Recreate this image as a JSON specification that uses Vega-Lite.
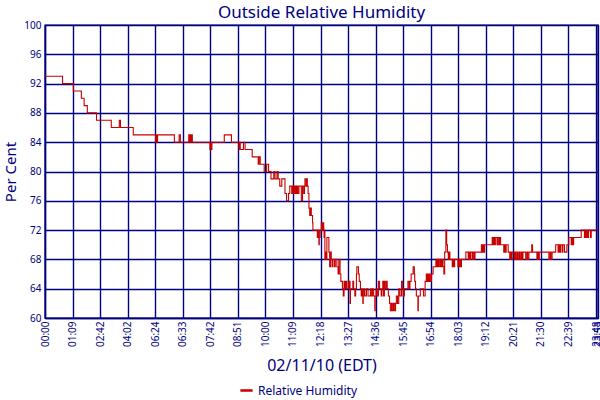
{
  "$schema": "https://vega.github.io/schema/vega-lite/v6.json",
  "width": 553,
  "height": 293,
  "autosize": {"type": "none"},
  "padding": {"left": 45, "top": 25, "right": 2, "bottom": 82},
  "background": "white",
  "config": {
    "font": "Noto Sans",
    "view": {"stroke": "#000080", "strokeWidth": 1.4},
    "axis": {"gridColor": "#000080", "gridOpacity": 1, "gridWidth": 1.4, "domainColor": "#000080", "domainWidth": 1.4, "ticks": false, "labelColor": "#000080", "titleColor": "#000080", "labelFont": "Noto Sans", "titleFont": "Noto Sans", "titleFontWeight": "normal"}
  },
  "title": {"text": "Outside Relative Humidity", "color": "#000080", "fontSize": 17, "fontWeight": "normal", "font": "Noto Sans", "frame": "group", "offset": -2},
  "data": {"values": [
    {"i":0,"v":93},{"i":44,"v":92},{"i":71,"v":91},{"i":91,"v":90},{"i":98,"v":89},{"i":106,"v":88},{"i":129,"v":87},{"i":166,"v":86},{"i":186,"v":87},{"i":189,"v":86},
    {"i":221,"v":85},{"i":277,"v":84},{"i":279,"v":85},{"i":280,"v":84},{"i":282,"v":85},{"i":324,"v":84},{"i":336,"v":85},{"i":339,"v":84},{"i":360,"v":85},{"i":362,"v":84},
    {"i":364,"v":85},{"i":366,"v":84},{"i":367,"v":85},{"i":369,"v":84},{"i":413,"v":83},{"i":415,"v":84},{"i":416,"v":83},{"i":418,"v":84},{"i":449,"v":85},{"i":467,"v":84},
    {"i":486,"v":83},{"i":488,"v":84},{"i":489,"v":83},{"i":497,"v":84},{"i":501,"v":83},{"i":519,"v":82},{"i":534,"v":81},{"i":536,"v":82},{"i":539,"v":81},{"i":549,"v":80},
    {"i":555,"v":81},{"i":560,"v":80},{"i":566,"v":79},{"i":573,"v":80},{"i":576,"v":79},{"i":581,"v":80},{"i":584,"v":79},{"i":588,"v":78},{"i":593,"v":79},{"i":601,"v":77},
    {"i":605,"v":76},{"i":610,"v":77},{"i":613,"v":78},{"i":618,"v":77},{"i":620,"v":78},{"i":622,"v":77},{"i":623,"v":78},{"i":625,"v":77},{"i":627,"v":78},{"i":629,"v":77},
    {"i":631,"v":78},{"i":633,"v":77},{"i":636,"v":78},{"i":642,"v":76},{"i":645,"v":78},{"i":648,"v":77},{"i":650,"v":78},{"i":651,"v":79},{"i":654,"v":78},{"i":655,"v":79},
    {"i":657,"v":78},{"i":659,"v":77},{"i":661,"v":75},{"i":663,"v":74},{"i":665,"v":75},{"i":667,"v":74},{"i":670,"v":73},{"i":671,"v":72},{"i":682,"v":71},{"i":684,"v":72},
    {"i":686,"v":70},{"i":687,"v":71},{"i":689,"v":72},{"i":692,"v":73},{"i":694,"v":72},{"i":696,"v":73},{"i":698,"v":72},{"i":699,"v":71},{"i":700,"v":72},{"i":701,"v":68},
    {"i":703,"v":69},{"i":705,"v":68},{"i":706,"v":71},{"i":711,"v":69},{"i":713,"v":67},{"i":715,"v":69},{"i":717,"v":68},{"i":719,"v":67},{"i":721,"v":68},{"i":725,"v":67},
    {"i":727,"v":68},{"i":731,"v":67},{"i":734,"v":66},{"i":736,"v":68},{"i":739,"v":66},{"i":741,"v":65},{"i":745,"v":64},{"i":747,"v":63},{"i":749,"v":65},{"i":751,"v":64},
    {"i":753,"v":65},{"i":755,"v":64},{"i":759,"v":65},{"i":761,"v":64},{"i":763,"v":65},{"i":764,"v":62},{"i":765,"v":64},{"i":771,"v":65},{"i":773,"v":64},{"i":776,"v":63},
    {"i":778,"v":64},{"i":780,"v":66},{"i":781,"v":67},{"i":785,"v":66},{"i":787,"v":65},{"i":790,"v":64},{"i":792,"v":63},{"i":794,"v":64},{"i":796,"v":62},{"i":797,"v":63},
    {"i":799,"v":64},{"i":801,"v":63},{"i":805,"v":64},{"i":809,"v":63},{"i":815,"v":64},{"i":817,"v":63},{"i":820,"v":64},{"i":823,"v":63},{"i":826,"v":61},{"i":827,"v":63},
    {"i":829,"v":64},{"i":832,"v":63},{"i":835,"v":65},{"i":838,"v":64},{"i":842,"v":63},{"i":844,"v":64},{"i":846,"v":65},{"i":848,"v":63},{"i":850,"v":65},{"i":852,"v":64},
    {"i":855,"v":65},{"i":857,"v":64},{"i":860,"v":63},{"i":863,"v":62},{"i":865,"v":61},{"i":868,"v":62},{"i":870,"v":61},{"i":873,"v":62},{"i":876,"v":61},{"i":878,"v":62},
    {"i":880,"v":63},{"i":883,"v":62},{"i":886,"v":64},{"i":889,"v":63},{"i":893,"v":65},{"i":895,"v":64},{"i":897,"v":63},{"i":900,"v":64},{"i":909,"v":65},{"i":912,"v":64},
    {"i":914,"v":65},{"i":917,"v":66},{"i":922,"v":67},{"i":925,"v":66},{"i":926,"v":65},{"i":928,"v":64},{"i":930,"v":63},{"i":934,"v":61},{"i":935,"v":63},{"i":940,"v":64},
    {"i":948,"v":63},{"i":952,"v":65},{"i":955,"v":66},{"i":957,"v":65},{"i":959,"v":66},{"i":961,"v":65},{"i":963,"v":66},{"i":965,"v":65},{"i":968,"v":66},{"i":972,"v":67},
    {"i":979,"v":68},{"i":981,"v":67},{"i":983,"v":68},{"i":985,"v":67},{"i":987,"v":68},{"i":990,"v":67},{"i":991,"v":68},{"i":993,"v":67},{"i":995,"v":68},{"i":997,"v":67},
    {"i":999,"v":66},{"i":1001,"v":69},{"i":1004,"v":72},{"i":1006,"v":70},{"i":1008,"v":69},{"i":1010,"v":68},{"i":1012,"v":69},{"i":1014,"v":68},{"i":1020,"v":67},{"i":1022,"v":68},
    {"i":1024,"v":67},{"i":1026,"v":68},{"i":1034,"v":67},{"i":1036,"v":68},{"i":1038,"v":67},{"i":1040,"v":68},{"i":1042,"v":67},{"i":1043,"v":68},{"i":1054,"v":69},{"i":1060,"v":68},
    {"i":1062,"v":69},{"i":1064,"v":68},{"i":1066,"v":69},{"i":1070,"v":68},{"i":1072,"v":69},{"i":1075,"v":68},{"i":1077,"v":69},{"i":1093,"v":70},{"i":1095,"v":69},{"i":1097,"v":70},
    {"i":1099,"v":69},{"i":1101,"v":70},{"i":1120,"v":71},{"i":1122,"v":70},{"i":1124,"v":71},{"i":1126,"v":70},{"i":1128,"v":71},{"i":1132,"v":70},{"i":1134,"v":71},{"i":1137,"v":70},
    {"i":1139,"v":71},{"i":1141,"v":70},{"i":1149,"v":69},{"i":1151,"v":70},{"i":1153,"v":69},{"i":1155,"v":70},{"i":1160,"v":69},{"i":1164,"v":68},{"i":1166,"v":69},{"i":1168,"v":68},
    {"i":1170,"v":69},{"i":1176,"v":68},{"i":1178,"v":69},{"i":1180,"v":68},{"i":1183,"v":69},{"i":1185,"v":68},{"i":1188,"v":69},{"i":1190,"v":68},{"i":1193,"v":69},{"i":1195,"v":68},
    {"i":1197,"v":69},{"i":1204,"v":68},{"i":1207,"v":69},{"i":1209,"v":68},{"i":1212,"v":69},{"i":1219,"v":70},{"i":1221,"v":69},{"i":1232,"v":68},{"i":1234,"v":69},{"i":1236,"v":68},
    {"i":1238,"v":69},{"i":1262,"v":68},{"i":1265,"v":69},{"i":1267,"v":68},{"i":1270,"v":69},{"i":1279,"v":70},{"i":1285,"v":69},{"i":1287,"v":70},{"i":1289,"v":69},{"i":1291,"v":70},
    {"i":1295,"v":69},{"i":1297,"v":70},{"i":1301,"v":69},{"i":1307,"v":70},{"i":1312,"v":71},{"i":1318,"v":70},{"i":1320,"v":71},{"i":1322,"v":70},{"i":1324,"v":71},{"i":1343,"v":72},
    {"i":1351,"v":71},{"i":1353,"v":72},{"i":1355,"v":71},{"i":1357,"v":72},{"i":1359,"v":71},{"i":1361,"v":72},{"i":1366,"v":71},{"i":1368,"v":72},{"i":1385,"v":72}
  ]},
  "mark": {"type": "line", "interpolate": "step-after", "strokeWidth": 1.1, "clip": true},
  "encoding": {
    "x": {
      "field": "i", "type": "quantitative",
      "scale": {"domain": [0, 1385], "nice": false, "zero": false},
      "axis": {
        "values": [0,69,138,207,276,345,414,483,552,621,690,759,828,897,966,1035,1104,1173,1242,1311,1380,1385],
        "labelExpr": "datum.value == 1385 ? '23:53' : ['00:00','01:09','02:42','04:02','06:24','06:33','07:42','08:51','10:00','11:09','12:18','13:27','14:36','15:45','16:54','18:03','19:12','20:21','21:30','22:39','23:48'][round(datum.value/69)]",
        "labelAngle": -90, "labelAlign": "right", "labelBaseline": "middle", "labelFontSize": 10, "labelPadding": 3, "labelOverlap": false, "labelBound": false, "labelFlush": false,
        "title": "02/11/10 (EDT)", "titleFontSize": 16, "titlePadding": 11
      }
    },
    "y": {
      "field": "v", "type": "quantitative",
      "scale": {"domain": [60, 100], "nice": false, "zero": false},
      "axis": {"values": [60,64,68,72,76,80,84,88,92,96,100], "labelFontSize": 10, "labelPadding": 4, "title": "Per Cent", "titleFontSize": 15, "titlePadding": 5}
    },
    "color": {
      "datum": "Relative Humidity", "type": "nominal",
      "scale": {"range": ["#c80000"]},
      "legend": {"title": null, "orient": "none", "legendX": 194, "legendY": 358, "symbolType": "stroke", "symbolStrokeWidth": 2.5, "symbolSize": 150, "labelColor": "#000080", "labelFontSize": 12, "labelFont": "Noto Sans"}
    }
  }
}
